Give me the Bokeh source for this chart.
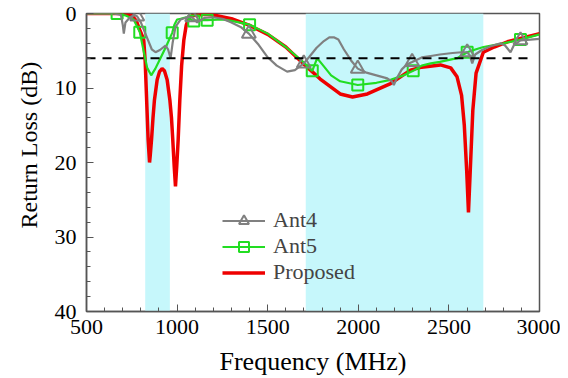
from bokeh.plotting import figure
from bokeh.models import (Range1d, SingleIntervalTicker, BoxAnnotation, Legend, LegendItem, Title)
from bokeh.embed import file_html
from bokeh.resources import INLINE

# ---------------- data ----------------
ant4_f = [500, 650, 690, 700, 706, 715, 740, 765, 780, 800, 830, 860, 881, 905, 936, 950, 964,
          975, 991, 1020, 1056, 1083, 1111, 1150, 1200, 1250, 1300, 1350, 1396, 1450, 1497, 1550,
          1607, 1650, 1699, 1730, 1770, 1810, 1840, 1865, 1890, 1920, 1960, 1997, 2040, 2100,
          2160, 2185, 2196, 2210, 2240, 2270, 2297, 2350, 2400, 2450, 2520, 2570, 2601, 2615,
          2629, 2645, 2683, 2730, 2785, 2810, 2840, 2860, 2895, 2950, 3000]
ant4_db = [0, 0, 0.2, 1.5, 2.7, 1.2, 0.5, 0.2, 0.4, 1.2, 3.0, 4.8, 5.2, 4.9, 4.3, 4.8, 6.0,
           4.0, 1.8, 0.8, 0.5, 0.5, 1.2, 0.6, 0.5, 0.7, 1.2, 1.8, 2.7, 4.2, 5.8, 7.0,
           7.8, 7.6, 6.7, 5.8, 4.6, 3.7, 3.2, 3.2, 3.5, 4.8, 6.3, 7.4, 7.9, 8.3,
           8.7, 9.1, 9.6, 8.8, 7.5, 6.8, 6.5, 5.9, 5.7, 5.5, 5.3, 5.2, 5.2, 5.6,
           6.7, 5.5, 4.9, 4.4, 4.0, 4.3, 5.2, 4.2, 3.6, 3.5, 3.4]
ant4_mark_f = [780, 1083, 1396, 1699, 1997, 2297, 2601, 2895]
ant4_mark_db = [0.4, 0.5, 2.7, 6.7, 7.4, 6.5, 5.2, 3.6]

ant5_f = [500, 669, 720, 760, 794, 815, 835, 857, 880, 908, 940, 973, 985, 1000, 1019, 1050,
          1092, 1120, 1166, 1250, 1300, 1400, 1500, 1600, 1700, 1746, 1773, 1800, 1850, 1900,
          1997, 2100, 2178, 2250, 2303, 2350, 2400, 2450, 2546, 2601, 2650, 2691, 2800, 2895,
          3000]
ant5_db = [0, 0, 0.3, 0.8, 2.5, 5.0, 7.3, 8.3, 7.4, 6.0, 4.4, 2.6, 1.5, 0.8, 0.7, 0.5,
           1.0, 0.9, 0.9, 0.8, 1.0, 1.5, 2.7, 4.5, 6.6, 7.7, 6.0, 6.8, 8.3, 9.1,
           9.6, 9.3, 8.9, 8.3, 7.7, 7.0, 6.7, 6.5, 6.0, 5.2, 4.8, 4.5, 4.0, 3.5,
           2.8]
ant5_mark_f = [669, 794, 973, 1092, 1166, 1400, 1746, 1997, 2303, 2601, 2895]
ant5_mark_db = [0, 2.5, 2.6, 1.0, 0.9, 1.5, 7.7, 9.6, 7.7, 5.2, 3.5]

prop_f = [500, 700, 752, 775, 794, 808, 816, 824, 831, 840, 848, 852, 859, 867, 875, 890,
          903, 917, 930, 945, 960, 969, 976, 984, 991, 998, 1006, 1015, 1025, 1037, 1050,
          1065, 1083, 1150, 1200, 1300, 1400, 1500, 1600, 1700,
          1790, 1900, 1968, 2050, 2178, 2288, 2350, 2453, 2510, 2545, 2570, 2585, 2598, 2608,
          2618, 2632, 2650, 2690, 2750, 2823, 2900, 3000]
prop_db = [0, 0, 0.3, 1.0, 2.2, 3.0, 3.6, 6.5, 11.0, 16.9, 20.0, 19.0, 16.9, 14.0, 11.6, 8.9,
           7.8, 7.4, 7.7, 8.9, 11.6, 14.0, 16.9, 20.5, 23.2, 20.5, 16.9, 11.6, 7.0, 3.6, 1.6,
           0.6, 0.3, 0.1, 0.2, 0.7, 1.6, 2.8, 4.5, 6.8,
           8.8, 10.8, 11.2, 10.8, 9.4, 7.6, 7.2, 6.9, 7.3, 8.5, 11.0, 15.0, 21.0, 26.7,
           21.0, 13.0, 8.0, 5.2, 4.5, 3.8, 3.3, 2.7]

bands = [(824, 960), (1710, 2690)]
threshold_db = 6
threshold_span = [500, 2950]

x_ticks_interval = 500
y_ticks_interval = 10

# ---------------- figure ----------------
SERIF = "Liberation Serif"
p = figure(width=560, height=378, output_backend="svg", toolbar_location=None,
           x_range=Range1d(500, 3000), y_range=Range1d(40, 0),
           min_border_left=86, min_border_right=21, min_border_top=13, min_border_bottom=65)
p.xgrid.visible = False
p.ygrid.visible = False
p.background_fill_color = "white"
p.outline_line_color = "#555555"
p.outline_line_width = 1.5

for lo, hi in bands:
    p.add_layout(BoxAnnotation(left=lo, right=hi, fill_color="#c6f7fb", fill_alpha=1.0,
                               line_alpha=0, level="underlay"))

red = "#ee0000"
green = "#22dd22"
grey = "#808080"

r_prop = p.line(prop_f, prop_db, line_color=red, line_width=3.5)
r5 = p.line(ant5_f, ant5_db, line_color=green, line_width=2.2)
r5m = p.scatter(ant5_mark_f, ant5_mark_db, marker="square", size=11, line_color=green,
                line_width=2, fill_alpha=0)
r4 = p.line(ant4_f, ant4_db, line_color=grey, line_width=2.2)
r4m = p.scatter(ant4_mark_f, ant4_mark_db, marker="triangle", size=14, line_color=grey,
                line_width=2, fill_alpha=0)

p.line(threshold_span, [threshold_db] * len(threshold_span), line_color="black",
       line_width=2, line_dash="9 7")

legend = Legend(items=[LegendItem(label="Ant4", renderers=[r4, r4m]),
                       LegendItem(label="Ant5", renderers=[r5, r5m]),
                       LegendItem(label="Proposed", renderers=[r_prop])],
                location=(136, 26), glyph_width=43, glyph_height=25, label_height=25,
                label_standoff=8, spacing=0, padding=0, margin=0,
                label_text_font=SERIF, label_text_font_size="22px",
                background_fill_alpha=0, border_line_alpha=0)
p.add_layout(legend)

for ax in (p.xaxis[0], p.yaxis[0]):
    ax.axis_line_color = "#555555"
    ax.axis_line_width = 1.5
    ax.major_tick_line_color = "#555555"
    ax.minor_tick_line_color = "#555555"
    ax.major_tick_in = 7
    ax.major_tick_out = 0
    ax.minor_tick_in = 4
    ax.minor_tick_out = 0
    ax.major_label_text_font = SERIF
    ax.major_label_text_font_size = "22px"
    ax.major_label_text_color = "black"
    ax.axis_label_text_font = SERIF
    ax.axis_label_text_font_style = "normal"
    ax.axis_label_text_color = "black"

p.xaxis.ticker = SingleIntervalTicker(interval=x_ticks_interval, num_minor_ticks=5)
p.yaxis.ticker = SingleIntervalTicker(interval=y_ticks_interval, num_minor_ticks=5)
p.xaxis.axis_label = "Frequency (MHz)"
p.xaxis.axis_label_text_font_size = "26px"
p.xaxis.major_label_standoff = 8
p.yaxis.major_label_standoff = 10
p.xaxis.axis_label_standoff = 10

# y-axis title, a little above the frame centre as in the reference
p.add_layout(Title(text="Return Loss (dB)", align="left", offset=83, standoff=19,
                   text_font=SERIF, text_font_size="24px", text_font_style="normal",
                   text_color="black"), "left")

open("out.html", "w").write(file_html(p, INLINE))
